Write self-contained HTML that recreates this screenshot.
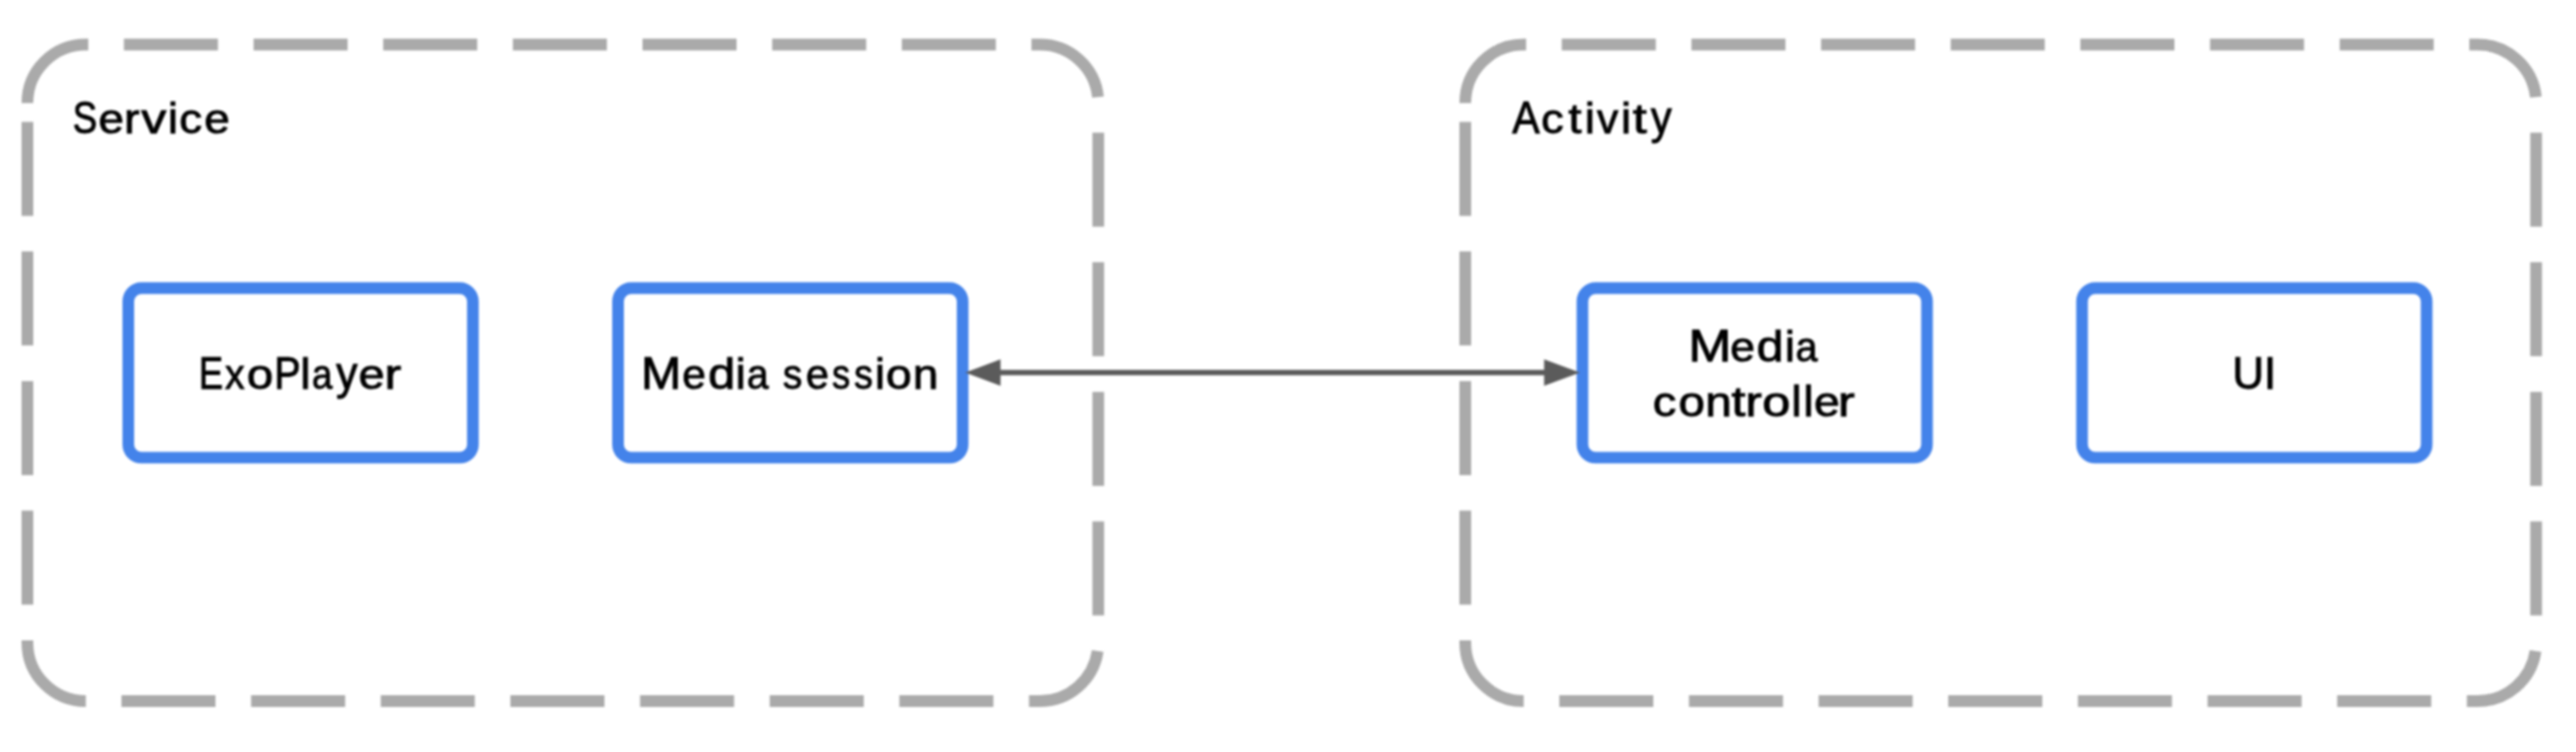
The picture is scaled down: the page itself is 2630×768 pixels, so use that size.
<!DOCTYPE html>
<html><head><meta charset="utf-8"><style>
html,body{margin:0;padding:0;background:#ffffff;}
body{width:2630px;height:768px;overflow:hidden;}
svg{display:block;}
text{font-family:"Liberation Sans",sans-serif;font-size:46px;fill:#000000;stroke:#000000;stroke-width:1.0px;}
svg{filter:blur(1.1px);}
</style></head><body>
<svg width="2630" height="768" viewBox="0 0 2630 768">
<path d="M28.0,105.2 A59.6,59.6 0 0 1 87.6,45.6 L1061.7,45.6 A59.6,59.6 0 0 1 1121.3,105.2 L1121.3,656.4 A59.6,59.6 0 0 1 1061.7,716.0 L87.6,716.0 A59.6,59.6 0 0 1 28.0,656.4 Z" fill="none" stroke="#aaaaaa" stroke-width="12.0" stroke-dasharray="96.0 36.37"/>
<path d="M1496.0,105.2 A59.6,59.6 0 0 1 1555.6,45.6 L2529.7000000000003,45.6 A59.6,59.6 0 0 1 2589.3,105.2 L2589.3,656.4 A59.6,59.6 0 0 1 2529.7000000000003,716.0 L1555.6,716.0 A59.6,59.6 0 0 1 1496.0,656.4 Z" fill="none" stroke="#aaaaaa" stroke-width="12.0" stroke-dasharray="96.0 36.37"/>
<rect x="131.0" y="294.3" width="351.8" height="173.09999999999997" rx="13.5" ry="13.5" fill="none" stroke="#4483ea" stroke-width="11.9"/>
<rect x="631.0" y="294.3" width="351.79999999999995" height="173.09999999999997" rx="13.5" ry="13.5" fill="none" stroke="#4483ea" stroke-width="11.9"/>
<rect x="1615.6" y="294.3" width="351.8000000000002" height="173.09999999999997" rx="13.5" ry="13.5" fill="none" stroke="#4483ea" stroke-width="11.9"/>
<rect x="2125.7" y="294.3" width="351.8000000000002" height="173.09999999999997" rx="13.5" ry="13.5" fill="none" stroke="#4483ea" stroke-width="11.9"/>
<line x1="1015" y1="380.5" x2="1583" y2="380.5" stroke="#5b5b5b" stroke-width="5.6"/>
<polygon points="985.5,380.5 1021.5,366.9 1021.5,394.1" fill="#5b5b5b"/>
<polygon points="1613,380.5 1576.5,366.9 1576.5,394.1" fill="#5b5b5b"/>
<text transform="translate(86.8 136.2) scale(0.812 1.0)" x="-15.33" y="0">S</text>
<text transform="translate(113.5 136.2) scale(1.015 0.91)" x="-12.75" y="0">e</text>
<text transform="translate(135.85 136.2) scale(1.026 0.91)" x="-8.8" y="0">r</text>
<text transform="translate(157.05 136.2) scale(1.111 0.91)" x="-11.5" y="0">v</text>
<text transform="translate(176.6 136.2) scale(1.0 0.95)" x="-5.1" y="0">i</text>
<text transform="translate(194.9 136.2) scale(1.013 0.91)" x="-11.87" y="0">c</text>
<text transform="translate(221.45 136.2) scale(1.019 0.91)" x="-12.75" y="0">e</text>
<text transform="translate(1557.95 135.8) scale(0.911 1.0)" x="-15.34" y="0">A</text>
<text transform="translate(1585.45 135.8) scale(0.998 0.91)" x="-11.87" y="0">c</text>
<text transform="translate(1608.0 135.8) scale(1.047 0.91)" x="-6.57" y="0">t</text>
<text transform="translate(1623.2 135.8) scale(1.0 0.95)" x="-5.1" y="0">i</text>
<text transform="translate(1641.35 135.8) scale(0.943 0.91)" x="-11.5" y="0">v</text>
<text transform="translate(1660.1 135.8) scale(1.0 0.95)" x="-5.1" y="0">i</text>
<text transform="translate(1674.25 135.8) scale(1.12 0.91)" x="-6.57" y="0">t</text>
<text transform="translate(1696.15 135.8) scale(0.921 1.0)" x="-11.51" y="0">y</text>
<text transform="translate(216.1 396.7) scale(0.806 1.0)" x="-16.24" y="0">E</text>
<text transform="translate(239.8 396.7) scale(0.869 0.91)" x="-11.51" y="0">x</text>
<text transform="translate(265.4 396.7) scale(1.054 0.91)" x="-12.79" y="0">o</text>
<text transform="translate(294.0 396.7) scale(0.878 1.0)" x="-16.01" y="0">P</text>
<text transform="translate(311.75 396.7) scale(1.0 0.95)" x="-5.12" y="0">l</text>
<text transform="translate(329.65 396.7) scale(0.813 0.91)" x="-13.77" y="0">a</text>
<text transform="translate(354.1 396.7) scale(0.943 1.0)" x="-11.51" y="0">y</text>
<text transform="translate(379.2 396.7) scale(1.042 0.91)" x="-12.75" y="0">e</text>
<text transform="translate(402.45 396.7) scale(1.12 0.91)" x="-8.8" y="0">r</text>
<text transform="translate(675.1 396.7) scale(1.069 1.0)" x="-19.16" y="0">M</text>
<text transform="translate(708.65 396.7) scale(0.945 0.91)" x="-12.75" y="0">e</text>
<text transform="translate(736.3 396.7) scale(1.078 0.95)" x="-12.27" y="0">d</text>
<text transform="translate(756.2 396.7) scale(1.0 0.95)" x="-5.1" y="0">i</text>
<text transform="translate(774.5 396.7) scale(0.868 0.91)" x="-13.77" y="0">a</text>
<text transform="translate(809.0 396.7) scale(0.863 0.91)" x="-11.31" y="0">s</text>
<text transform="translate(834.45 396.7) scale(0.917 0.91)" x="-12.75" y="0">e</text>
<text transform="translate(858.7 396.7) scale(0.803 0.91)" x="-11.31" y="0">s</text>
<text transform="translate(881.3 396.7) scale(0.833 0.91)" x="-11.31" y="0">s</text>
<text transform="translate(898.4 396.7) scale(1.0 0.95)" x="-5.1" y="0">i</text>
<text transform="translate(917.7 396.7) scale(1.027 0.91)" x="-12.79" y="0">o</text>
<text transform="translate(945.0 396.7) scale(1.018 0.91)" x="-12.83" y="0">n</text>
<text transform="translate(1745.8 368.6) scale(1.147 1.0)" x="-19.16" y="0">M</text>
<text transform="translate(1779.1 368.6) scale(0.987 0.91)" x="-12.75" y="0">e</text>
<text transform="translate(1806.5 368.6) scale(1.068 0.95)" x="-12.27" y="0">d</text>
<text transform="translate(1827.4 368.6) scale(1.0 0.95)" x="-5.1" y="0">i</text>
<text transform="translate(1845.3 368.6) scale(0.876 0.91)" x="-13.77" y="0">a</text>
<text transform="translate(1699.75 424.9) scale(1.039 0.91)" x="-11.87" y="0">c</text>
<text transform="translate(1727.15 424.9) scale(1.05 0.91)" x="-12.79" y="0">o</text>
<text transform="translate(1754.6 424.9) scale(1.059 0.91)" x="-12.83" y="0">n</text>
<text transform="translate(1775.1 424.9) scale(1.12 0.91)" x="-6.57" y="0">t</text>
<text transform="translate(1791.55 424.9) scale(1.096 0.91)" x="-8.8" y="0">r</text>
<text transform="translate(1813.5 424.9) scale(1.119 0.91)" x="-12.79" y="0">o</text>
<text transform="translate(1834.0 424.9) scale(1.0 0.95)" x="-5.12" y="0">l</text>
<text transform="translate(1846.4 424.9) scale(1.0 0.95)" x="-5.12" y="0">l</text>
<text transform="translate(1865.05 424.9) scale(1.028 0.91)" x="-12.75" y="0">e</text>
<text transform="translate(1886.25 424.9) scale(1.12 0.91)" x="-8.8" y="0">r</text>
<text transform="translate(2295.3 396.7) scale(0.969 1.0)" x="-16.61" y="0">U</text>
<text transform="translate(2317.6 396.7) scale(1.0 1.0)" x="-6.39" y="0">I</text>
</svg>
</body></html>
